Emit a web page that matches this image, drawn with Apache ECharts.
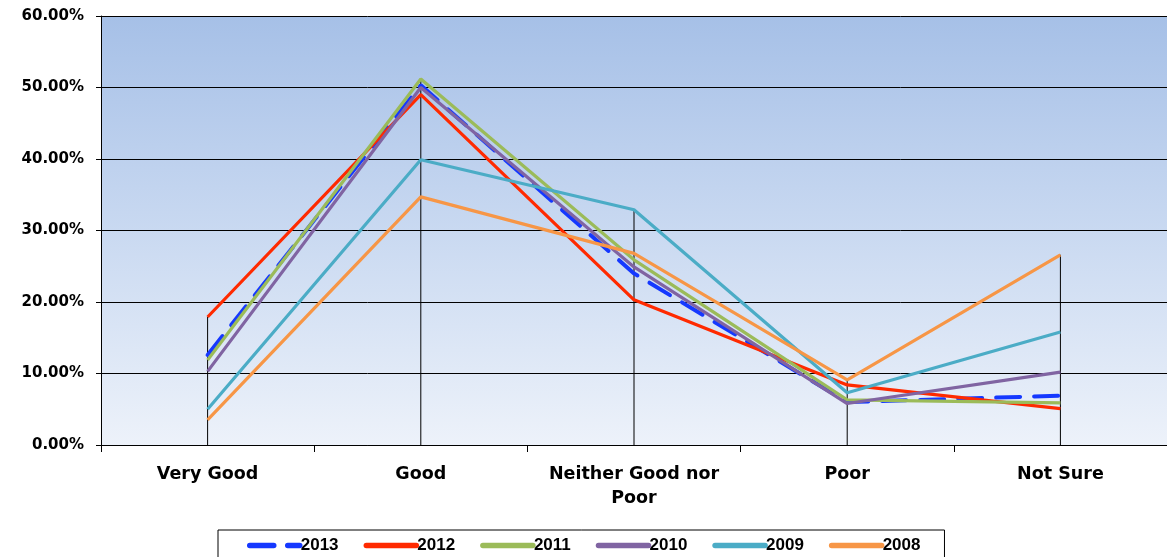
<!DOCTYPE html>
<html>
<head>
<meta charset="utf-8">
<script src="https://cdn.jsdelivr.net/npm/echarts@6/dist/echarts.min.js"></script>
<style>
  html, body { margin: 0; padding: 0; background: #fff; }
  #chart { width: 1167px; height: 557px; }
</style>
</head>
<body>
<div id="chart"></div>
<script>
// categories and per-year values (percent)
const categories = ['Very Good', 'Good', 'Neither Good nor\nPoor', 'Poor', 'Not Sure'];
const years = ['2013', '2012', '2011', '2010', '2009', '2008'];
const v2013 = [12.6, 50.3, 24.0, 6.0, 6.9];
const v2012 = [17.9, 49.0, 20.3, 8.4, 5.1];
const v2011 = [11.9, 51.2, 25.9, 6.3, 5.9];
const v2010 = [10.3, 50.0, 24.9, 5.8, 10.2];
const v2009 = [5.0, 39.9, 32.9, 7.3, 15.8];
const v2008 = [3.5, 34.7, 26.8, 9.1, 26.6];
const yTicks = [0, 10, 20, 30, 40, 50, 60];

const colors = ['#1538ff', '#ff2a00', '#9bbb59', '#8064a2', '#4bacc6', '#f79646'];
const allValues = [v2013, v2012, v2011, v2010, v2009, v2008];

// drop lines go from the highest value down to the axis
const dropMax = categories.map((c, i) => Math.max(...allValues.map(a => a[i])));

const chart = echarts.init(document.getElementById('chart'));

// later years are drawn on top, like the original
const lineSeries = years.map((y, k) => ({
    name: y,
    type: 'line',
    data: allValues[k],
    symbol: 'none',
    z: 3 + k,
    lineStyle: {
        width: k === 0 ? 4 : 3.2,
        color: colors[k],
        type: k === 0 ? [24, 14] : 'solid',
        cap: k === 0 ? 'round' : 'butt',
    },
    itemStyle: { color: colors[k] },
}));

chart.setOption({
    animation: false,
    color: colors,
    grid: {
        left: 101,
        right: -1,
        top: 16,
        bottom: 112,
        show: true,
        borderWidth: 0,
        backgroundColor: new echarts.graphic.LinearGradient(0, 0, 0, 1, [
            { offset: 0, color: '#a6c0e7' },
            { offset: 0.5, color: '#c9d9f1' },
            { offset: 1, color: '#edf2fa' },
        ]),
    },
    legend: {
        data: years,
        left: 218,
        top: 530,
        padding: [7, 24, 8, 29],
        borderColor: '#000',
        borderWidth: 1,
        itemWidth: 50,
        itemHeight: 14,
        itemGap: 25,
        itemStyle: { opacity: 0 },
        lineStyle: { width: 5.5, cap: 'round' },
        textStyle: {
            fontFamily: "'Liberation Sans Narrow', 'Liberation Sans', Arial",
            fontWeight: 'bold',
            fontSize: 17,
            color: '#000',
            padding: [0, 0, 0, -4],
        },
    },
    xAxis: {
        type: 'category',
        data: categories,
        boundaryGap: true,
        axisLine: { lineStyle: { color: '#000', width: 1 } },
        axisTick: { show: true, length: 7, lineStyle: { color: '#000' } },
        axisLabel: {
            margin: 17,
            color: '#000',
            fontFamily: "'DejaVu Sans', sans-serif",
            fontWeight: 'bold',
            fontSize: 17.5,
            lineHeight: 24,
            interval: 0,
        },
        splitLine: { show: false },
    },
    yAxis: {
        type: 'value',
        min: yTicks[0],
        max: yTicks[yTicks.length - 1],
        interval: 10,
        axisLine: { show: true, lineStyle: { color: '#000', width: 1 } },
        axisTick: { show: true, length: 5, lineStyle: { color: '#000' } },
        axisLabel: {
            margin: 17,
            color: '#000',
            fontFamily: "'DejaVu Sans', sans-serif",
            fontWeight: 'bold',
            fontSize: 15,
            formatter: (v) => v.toFixed(2) + '%',
        },
        splitLine: { show: true, lineStyle: { color: '#000', width: 1 } },
    },
    series: [
        {
            name: 'drop',
            type: 'bar',
            data: dropMax,
            barWidth: 1,
            silent: true,
            z: 1,
            itemStyle: { color: '#000' },
        },
        ...lineSeries,
    ],
});
</script>
</body>
</html>
